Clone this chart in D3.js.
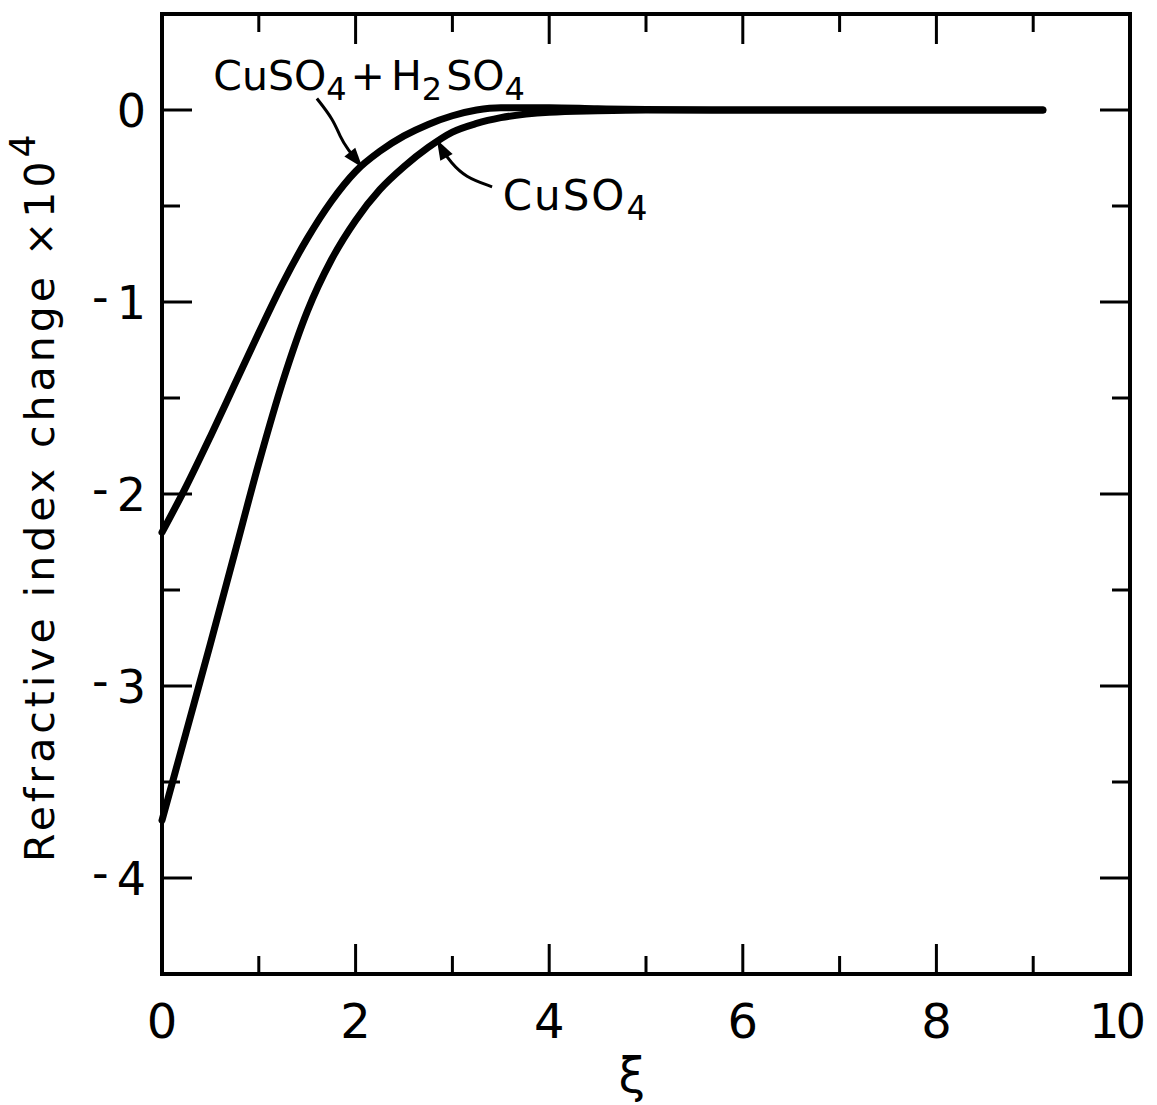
<!DOCTYPE html>
<html>
<head>
<meta charset="utf-8">
<script src="https://cdn.jsdelivr.net/npm/d3@7"></script>
<style>
    body { margin: 0; background: #fff; }
    svg { display: block; }
    text { font-family: "DejaVu Sans", sans-serif; fill: #000; }
</style>
</head>
<body>
<svg id="chart" width="1157" height="1105"></svg>
<script>
// values (xi, refractive index change x 1e4)
const xi = [0, 0.25, 0.5, 0.75, 1.0, 1.25, 1.5, 1.75, 2.0, 2.25, 2.5, 2.75, 3.0, 3.25, 3.5, 4.0, 4.5, 5, 6, 7, 8, 9.1];
const acidMix = [-2.2, -1.96, -1.70, -1.43, -1.16, -0.90, -0.67, -0.475, -0.32, -0.215, -0.135, -0.075, -0.03, 0.0, 0.012, 0.012, 0.006, 0.002, 0, 0, 0, 0];
const copperOnly = [-3.7, -3.24, -2.78, -2.31, -1.84, -1.41, -1.05, -0.78, -0.575, -0.415, -0.295, -0.195, -0.115, -0.07, -0.04, -0.012, -0.004, 0, 0, 0, 0, 0];

const xMajor = [0, 2, 4, 6, 8, 10];
const xMinor = [1, 3, 5, 7, 9];
const yMajor = [0, -1, -2, -3, -4];
const yMinor = [-0.5, -1.5, -2.5, -3.5];

// annotation leaders, in data units
const arrowMix = [[1.60, 0.06], [1.77, -0.05], [1.84, -0.14], [1.91, -0.20], [2.07, -0.30]];
const arrowCu = [[3.41, -0.40], [3.13, -0.35], [2.98, -0.27], [2.91, -0.22], [2.84, -0.155]];

const plotL = 162, plotR = 1130, plotT = 14, plotB = 974;

const x = d3.scaleLinear().domain([0, 10]).range([plotL, plotR]);
const y = d3.scaleLinear().domain([-4.5, 0.5]).range([plotB, plotT]);

const svg = d3.select("#chart");

// frame
svg.append("rect")
    .attr("x", plotL).attr("y", plotT)
    .attr("width", plotR - plotL).attr("height", plotB - plotT)
    .attr("fill", "none").attr("stroke", "#000").attr("stroke-width", 4);

// inward ticks on all four sides
const majorLen = 30, minorLen = 18;
const ticks = svg.append("g").attr("stroke", "#000").attr("stroke-width", 3);

function xTicks(vals, len) {
    vals.forEach(v => {
        ticks.append("line").attr("x1", x(v)).attr("x2", x(v)).attr("y1", plotB).attr("y2", plotB - len);
        ticks.append("line").attr("x1", x(v)).attr("x2", x(v)).attr("y1", plotT).attr("y2", plotT + len);
    });
}
function yTicks(vals, len) {
    vals.forEach(v => {
        ticks.append("line").attr("y1", y(v)).attr("y2", y(v)).attr("x1", plotL).attr("x2", plotL + len);
        ticks.append("line").attr("y1", y(v)).attr("y2", y(v)).attr("x1", plotR).attr("x2", plotR - len);
    });
}
xTicks(xMajor, majorLen);
xTicks(xMinor, minorLen);
yTicks(yMajor, majorLen);
yTicks(yMinor, minorLen);

// tick labels ("10" kept inside the page, as in the original)
svg.append("g").selectAll("text")
    .data(xMajor)
    .join("text")
    .attr("x", d => d === 10 ? x(d) + 12 : x(d))
    .attr("y", 1038)
    .attr("text-anchor", d => d === 10 ? "end" : "middle")
    .attr("letter-spacing", d => d === 10 ? -4 : 0)
    .attr("font-size", 48)
    .text(d => d);

const yLab = svg.append("g").selectAll("text")
    .data(yMajor)
    .join("text")
    .attr("x", 146)
    .attr("y", d => y(d) + 17)
    .attr("text-anchor", "end")
    .attr("font-size", 46);
yLab.filter(d => d < 0).append("tspan").attr("dy", -6).text("-");
yLab.append("tspan").attr("dx", d => d < 0 ? 8 : 0).attr("dy", d => d < 0 ? 6 : 0).text(d => Math.abs(d));

// axis titles
svg.append("text")
    .attr("x", 632)
    .attr("y", 1092)
    .attr("text-anchor", "middle")
    .attr("font-size", 48)
    .text("ξ");

const yTitle = svg.append("text")
    .attr("transform", `translate(54, 862) rotate(-90)`)
    .attr("font-size", 41)
    .attr("letter-spacing", 4);
yTitle.append("tspan").text("Refractive index change ×10");
yTitle.append("tspan").attr("dy", -19).attr("font-size", 36).text("4");

// curves
const line = d3.line()
    .x(d => x(d[0]))
    .y(d => y(d[1]))
    .curve(d3.curveMonotoneX);

[acidMix, copperOnly].forEach(series => {
    svg.append("path")
        .datum(xi.map((v, i) => [v, series[i]]))
        .attr("d", line)
        .attr("fill", "none")
        .attr("stroke", "#000")
        .attr("stroke-width", 7)
        .attr("stroke-linecap", "round")
        .attr("stroke-linejoin", "round");
});

// leaders with arrow heads
const leader = d3.line().x(d => x(d[0])).y(d => y(d[1])).curve(d3.curveBasis);
function arrow(pts) {
    svg.append("path")
        .attr("d", leader(pts))
        .attr("fill", "none").attr("stroke", "#000").attr("stroke-width", 3);
    const [tx, ty] = [x(pts[pts.length - 1][0]), y(pts[pts.length - 1][1])];
    const [bx, by] = [x(pts[pts.length - 2][0]), y(pts[pts.length - 2][1])];
    const a = Math.atan2(ty - by, tx - bx);
    const L = 20, W = 7;
    const cx = tx - L * Math.cos(a), cy = ty - L * Math.sin(a);
    const p1 = [cx + W * Math.sin(a), cy - W * Math.cos(a)];
    const p2 = [cx - W * Math.sin(a), cy + W * Math.cos(a)];
    svg.append("path")
        .attr("d", `M${tx},${ty}L${p1[0]},${p1[1]}L${p2[0]},${p2[1]}Z`)
        .attr("fill", "#000");
}
arrow(arrowMix);
arrow(arrowCu);

// curve labels
const lab1 = svg.append("text")
    .attr("x", x(0.53))
    .attr("y", y(0.104))
    .attr("font-size", 41);
lab1.append("tspan").text("CuSO");
lab1.append("tspan").attr("dy", 10).attr("font-size", 32).text("4");
lab1.append("tspan").attr("dy", -10).attr("dx", 4).text("+");
lab1.append("tspan").attr("dx", 6).text("H");
lab1.append("tspan").attr("dy", 10).attr("font-size", 32).text("2");
lab1.append("tspan").attr("dy", -10).attr("dx", 4).text("SO");
lab1.append("tspan").attr("dy", 10).attr("font-size", 32).text("4");

const lab2 = svg.append("text")
    .attr("x", x(3.52))
    .attr("y", y(-0.52))
    .attr("font-size", 42)
    .attr("letter-spacing", 2);
lab2.append("tspan").text("CuSO");
lab2.append("tspan").attr("dy", 10).attr("font-size", 33).text("4");
</script>
</body>
</html>
